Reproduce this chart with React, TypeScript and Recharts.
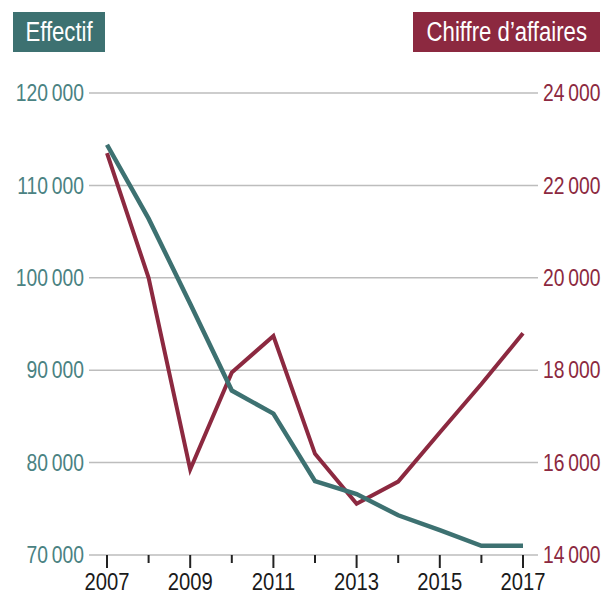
import { CartesianGrid, Line, LineChart, XAxis, YAxis } from "recharts";

const years = [2007, 2008, 2009, 2010, 2011, 2012, 2013, 2014, 2015, 2016, 2017];
const effectif = [114400, 106400, 97200, 87800, 85300, 78000, 76600, 74300, 72700, 71000, 71000];
const chiffreAffaires = [22700, 20000, 15850, 17950, 18740, 16190, 15110, 15590, 16650, 17700, 18800];
const leftTicks = [70000, 80000, 90000, 100000, 110000, 120000];
const rightTicks = [14000, 16000, 18000, 20000, 22000, 24000];

const TEAL = "#3d7171";
const RED = "#8c2940";
const FONT = "'Liberation Sans', Arial, sans-serif";
// no condensed face installed, so squeeze the regular one
const NARROW = 0.84;

const chartData = years.map((year, i) => ({
  year,
  effectif: effectif[i],
  ca: chiffreAffaires[i]
}));

const fmt = (v: number) => {
  const s = String(v);
  return `${s.slice(0, s.length - 3)}\u2009${s.slice(-3)}`;
};

function YearTick(props: any) {
  const { x, y, payload } = props;
  const labelled = payload.value % 2 === 1;
  return (
    <g>
      <line x1={x} x2={x} y1={y} y2={y + (labelled ? 13 : 8)} stroke="#222" strokeWidth={2} />
      {labelled && (
        <text
          transform={`translate(${x},${y + 35}) scale(0.88,1)`}
          textAnchor="middle"
          fill="#1a1a1a"
          fontSize={23}
          fontFamily={FONT}
        >
          {payload.value}
        </text>
      )}
    </g>
  );
}

function ValueTick(props: any) {
  const { x, y, payload, textAnchor, fill } = props;
  return (
    <text
      transform={`translate(${x},${y}) scale(${NARROW},1)`}
      textAnchor={textAnchor}
      dy="0.36em"
      fill={fill}
      fontSize={23}
      fontFamily={FONT}
    >
      {fmt(payload.value)}
    </text>
  );
}

const boxStyle = {
  position: "absolute" as const,
  top: 12,
  height: 40,
  display: "flex",
  alignItems: "center",
  justifyContent: "center",
  color: "#fff",
  fontFamily: FONT,
  fontSize: 27,
  whiteSpace: "nowrap" as const
};

const squeeze = { display: "inline-block", transform: "scaleX(0.82)" };

export default function App() {
  return (
    <div style={{ position: "fixed", left: 0, top: 0, width: 612, height: 594, background: "#fff" }}>
      <LineChart
        width={612}
        height={594}
        data={chartData}
        margin={{ top: 93, right: 0, bottom: 0, left: 0 }}
      >
        <CartesianGrid yAxisId="left" vertical={false} stroke="#bdbdbd" strokeWidth={1.5} />
        <XAxis
          dataKey="year"
          type="number"
          domain={[2007, 2017]}
          ticks={years}
          padding={{ left: 18, right: 15 }}
          axisLine={false}
          tickLine={false}
          tickSize={0}
          tickMargin={0}
          height={39}
          interval={0}
          tick={<YearTick />}
        />
        <YAxis
          yAxisId="left"
          orientation="left"
          domain={[70000, 120000]}
          ticks={leftTicks}
          width={89}
          axisLine={false}
          tickLine={false}
          tickSize={3}
          tickMargin={2}
          tick={<ValueTick fill="#4a8282" />}
        />
        <YAxis
          yAxisId="right"
          orientation="right"
          domain={[14000, 24000]}
          ticks={rightTicks}
          width={74}
          axisLine={false}
          tickLine={false}
          tickSize={3}
          tickMargin={2}
          tick={<ValueTick fill={RED} />}
        />
        <Line
          yAxisId="right"
          dataKey="ca"
          type="linear"
          stroke={RED}
          strokeWidth={4}
          dot={false}
          isAnimationActive={false}
        />
        <Line
          yAxisId="left"
          dataKey="effectif"
          type="linear"
          stroke={TEAL}
          strokeWidth={4.5}
          dot={false}
          isAnimationActive={false}
        />
      </LineChart>
      <div style={{ ...boxStyle, left: 13, width: 92, background: TEAL }}>
        <span style={squeeze}>Effectif</span>
      </div>
      <div style={{ ...boxStyle, left: 413, width: 187, background: RED }}>
        <span style={squeeze}>Chiffre d’affaires</span>
      </div>
    </div>
  );
}
